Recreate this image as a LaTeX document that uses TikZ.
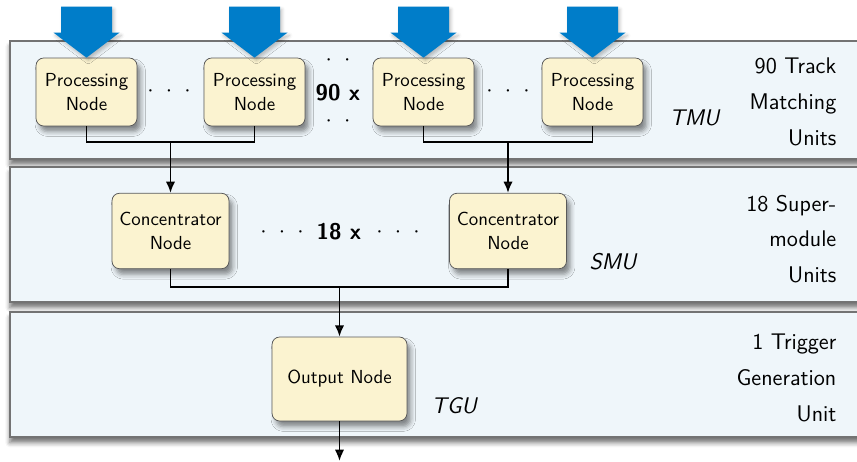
\documentclass[tikz,border=0pt]{standalone}
\usetikzlibrary{calc,arrows.meta,shadows.blur}

\definecolor{panelblue}{RGB}{239,246,250}
\definecolor{nodecream}{RGB}{251,243,208}
\definecolor{feedblue}{RGB}{0,125,201}

\newcommand{\gapdots}[1]{$\cdot$\foreach \k in {2,...,#1}{\hspace{6.5pt}$\cdot$}}

\tikzset{
  unit/.style={draw=black!55, fill=panelblue, line width=0.6pt,
    blur shadow={shadow xshift=0pt, shadow yshift=-3pt, shadow blur radius=2.5pt, shadow opacity=55}},
  block/.style={draw=black!65, fill=nodecream, rounded corners=4pt, align=center,
    font=\sffamily\fontsize{10}{13}\selectfont,
    blur shadow={shadow xshift=2pt, shadow yshift=-3pt, shadow blur radius=2.5pt, shadow opacity=45}},
  procnode/.style={block, minimum width=53.5pt, minimum height=36pt},
  concnode/.style={block, minimum width=62pt, minimum height=40pt},
  outnode/.style={block, minimum width=71.5pt, minimum height=44.5pt},
  link/.style={line width=1pt},
  flow/.style={link, -{Latex[length=6pt,width=5pt]}},
  feed/.style={fill=feedblue, blur shadow={shadow xshift=1pt, shadow yshift=-1.5pt, shadow opacity=25}},
  tag/.style={font=\sffamily\itshape\fontsize{12}{14}\selectfont, anchor=west},
  count/.style={font=\sffamily\bfseries\fontsize{12}{14}\selectfont},
  dotrow/.style={font=\fontsize{12}{14}\selectfont, inner sep=0pt},
  legend/.style={font=\sffamily\fontsize{12}{19}\selectfont, align=right, anchor=east},
}

\begin{document}
\begin{tikzpicture}[x=0.53pt, y=-0.53pt]
  \useasboundingbox (0,0) rectangle (857,462);
  \clip (0,0) rectangle (857,462);

  % the three layers
  \draw[unit] (10,41) rectangle (880,159);
  \draw[unit] (10,167) rectangle (880,302);
  \draw[unit] (10,312) rectangle (880,437);

  \node[legend] (tmutext) at (843,102) {90 Track\\Matching\\Units};
  \node[legend] (smutext) at (843,239) {18 Super-\\module\\Units};
  \node[legend] (tgutext) at (843,378) {1 Trigger\\Generation\\Unit};

  % track matching layer
  \foreach \i/\x in {1/86.5, 2/254.5, 3/423.5, 4/592.5}
    \node[procnode] (p\i) at (\x,92) {Processing\\Node};
  \foreach \i in {1,...,4}
    \fill[feed] (p\i.north) -- ++(-33,-25) -- ++(7.5,0) -- ++(0,-26)
      -- ++(51,0) -- ++(0,26) -- ++(7.5,0) -- cycle;

  \node[dotrow] (d12) at (169,91) {\gapdots{3}};
  \node[dotrow] (d34) at (508,91) {\gapdots{3}};
  \node[count] (n90) at (338,93) {90 x};
  \node[dotrow] (d90a) at (338,60) {\gapdots{2}};
  \node[dotrow] (d90b) at (338,121) {\gapdots{2}};
  \node[tag] (tmu) at (663,118) {TMU};

  % supermodule layer
  \node[concnode] (c1) at (170.5,231) {Concentrator\\Node};
  \node[concnode] (c2) at (508,231) {Concentrator\\Node};
  \node[dotrow] (d18a) at (282,232) {\gapdots{3}};
  \node[count] (n18) at (339,232) {18 x};
  \node[dotrow] (d18b) at (398,232) {\gapdots{3}};
  \node[tag] (smu) at (583,262) {SMU};

  % trigger generation layer
  \node[outnode] (out) at (339.5,379) {Output Node};
  \node[tag] (tgu) at (425,406) {TGU};
  \coordinate (exit) at (339.5,461);

  % links between the layers
  \draw[link] (p1.south) |- (p2.south |- 0,142) -- (p2.south);
  \draw[link] (p3.south) |- (p4.south |- 0,142) -- (p4.south);
  \draw[flow] (c1.north |- 0,142) -- (c1.north);
  \draw[flow] (c2.north |- 0,142) -- (c2.north);
  \draw[link] (c1.south) |- (c2.south |- 0,287) -- (c2.south);
  \draw[flow] (out.north |- 0,287) -- (out.north);
  \draw[flow] (out.south) -- (exit);
\end{tikzpicture}
\end{document}
